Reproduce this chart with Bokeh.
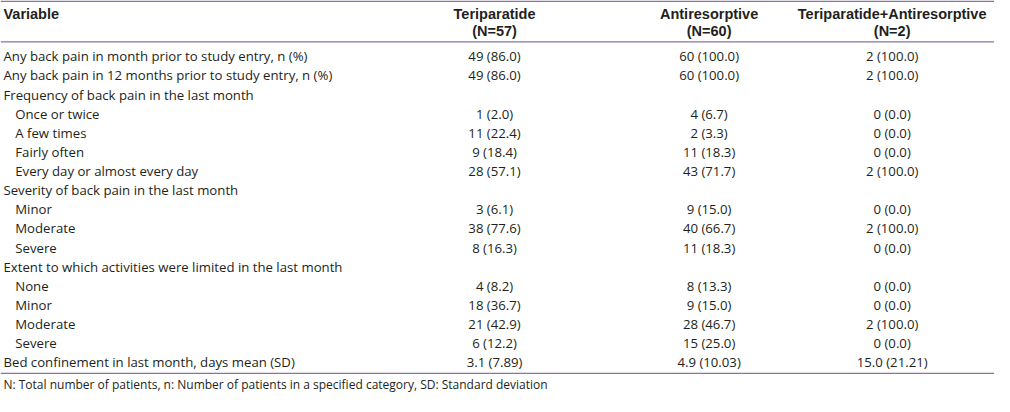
from bokeh.plotting import figure
from bokeh.models import ColumnDataSource, Range1d
from bokeh.core.properties import value
from bokeh.embed import file_html
from bokeh.resources import INLINE

# ---- data ----
headers = ["Variable", "Teriparatide", "Antiresorptive", "Teriparatide+Antiresorptive"]
header_n = ["", "(N=57)", "(N=60)", "(N=2)"]

row_labels = [
    "Any back pain in month prior to study entry, n (%)",
    "Any back pain in 12 months prior to study entry, n (%)",
    "Frequency of back pain in the last month",
    "Once or twice",
    "A few times",
    "Fairly often",
    "Every day or almost every day",
    "Severity of back pain in the last month",
    "Minor",
    "Moderate",
    "Severe",
    "Extent to which activities were limited in the last month",
    "None",
    "Minor",
    "Moderate",
    "Severe",
    "Bed confinement in last month, days mean (SD)",
]
row_indent = [0, 0, 0, 1, 1, 1, 1, 0, 1, 1, 1, 0, 1, 1, 1, 1, 0]
teriparatide = ["49 (86.0)", "49 (86.0)", "", "1 (2.0)", "11 (22.4)", "9 (18.4)", "28 (57.1)",
                "", "3 (6.1)", "38 (77.6)", "8 (16.3)", "", "4 (8.2)", "18 (36.7)", "21 (42.9)",
                "6 (12.2)", "3.1 (7.89)"]
antiresorptive = ["60 (100.0)", "60 (100.0)", "", "4 (6.7)", "2 (3.3)", "11 (18.3)", "43 (71.7)",
                  "", "9 (15.0)", "40 (66.7)", "11 (18.3)", "", "8 (13.3)", "9 (15.0)", "28 (46.7)",
                  "15 (25.0)", "4.9 (10.03)"]
combined = ["2 (100.0)", "2 (100.0)", "", "0 (0.0)", "0 (0.0)", "0 (0.0)", "2 (100.0)",
            "", "0 (0.0)", "2 (100.0)", "0 (0.0)", "", "0 (0.0)", "0 (0.0)", "2 (100.0)",
            "0 (0.0)", "15.0 (21.21)"]
footnote = "N: Total number of patients, n: Number of patients in a specified category, SD: Standard deviation"

# ---- layout (in reference pixel units) ----
W, H = 1010, 412
col_x = [3, 502, 720, 906]
row_top = 58
row_step = 19.9
indent_px = 12
rule_color = "#8b72a3"
text_color = "#231f20"
font = "Open Sans"
head_font = "Liberation Sans"
fs = "13.2px"
hfs = "14.5px"

p = figure(width=994, height=396, output_backend="svg", toolbar_location=None,
           x_range=Range1d(0, W), y_range=Range1d(H, 0), min_border=0)
p.axis.visible = False
p.grid.visible = False
p.outline_line_color = None
p.background_fill_color = "white"
p.border_fill_color = "white"

# rules
p.segment(x0=[0, 0, 0], y0=[0.8, 43, 388], x1=[W, W, W], y1=[0.8, 43, 388],
          line_color=rule_color, line_width=1.3)

# headers
p.text(x=[col_x[0]], y=[14], text=[headers[0]], text_font=value(head_font), text_font_size=hfs,
       text_font_style="bold", text_align="left", text_baseline="middle", text_color=text_color)
p.text(x=col_x[1:], y=[14] * 3, text=headers[1:], text_font=value(head_font), text_font_size=hfs,
       text_font_style="bold", text_align="center", text_baseline="middle", text_color=text_color)
p.text(x=col_x[1:], y=[31.5] * 3, text=header_n[1:], text_font=value(head_font), text_font_size=hfs,
       text_font_style="bold", text_align="center", text_baseline="middle", text_color=text_color)

# rows
ys = [row_top + i * row_step for i in range(len(row_labels))]
xs = [col_x[0] + indent_px * k for k in row_indent]
src = ColumnDataSource(dict(x=xs, y=ys, label=row_labels, t=teriparatide, a=antiresorptive, c=combined))
p.text(x="x", y="y", text="label", source=src, text_font=value(font), text_font_size=fs,
       text_align="left", text_baseline="middle", text_color=text_color)
for cx, col in zip(col_x[1:], ["t", "a", "c"]):
    p.text(x=cx, y="y", text=col, source=src, text_font=value(font), text_font_size=fs,
           text_align="center", text_baseline="middle", text_color=text_color)

# footnote
p.text(x=[col_x[0]], y=[400], text=[footnote], text_font=value(font), text_font_size="12px",
       text_align="left", text_baseline="middle", text_color=text_color)

open("out.html", "w").write(file_html(p, INLINE))
